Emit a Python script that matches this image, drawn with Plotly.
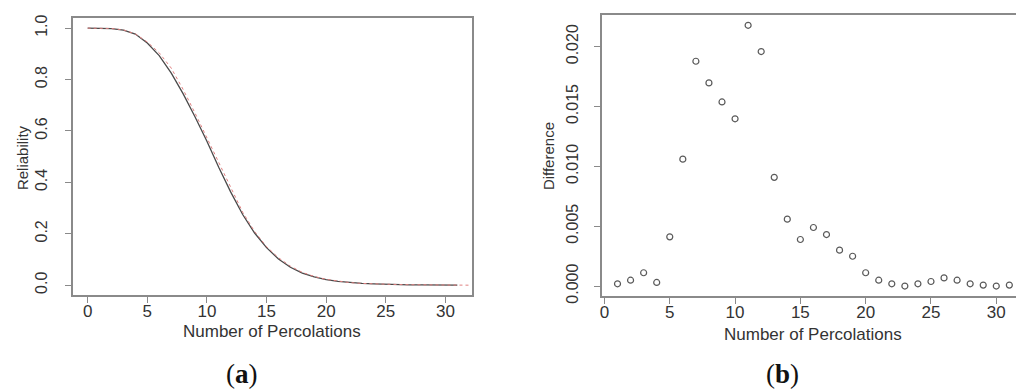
import plotly.graph_objects as go

W, H = 1024, 389

# ---- Panel (a): reliability curves ----
perc_a = list(range(0, 32))
reliability_black = [1.000, 0.9995, 0.998, 0.992, 0.977, 0.942, 0.893, 0.826, 0.745, 0.655,
                     0.560, 0.458, 0.362, 0.275, 0.203, 0.146, 0.102, 0.070, 0.047, 0.032,
                     0.022, 0.015, 0.010, 0.007, 0.005, 0.003, 0.002, 0.0015, 0.001, 0.0006,
                     0.0003, 0.0002]
perc_red = list(range(0, 33))
reliability_red = [1.000, 0.9997, 0.9985, 0.993, 0.977, 0.946, 0.904, 0.845, 0.762, 0.670,
                   0.574, 0.480, 0.382, 0.284, 0.209, 0.150, 0.107, 0.074, 0.050, 0.034,
                   0.023, 0.0155, 0.010, 0.007, 0.005, 0.0034, 0.0027, 0.002, 0.0012, 0.0007,
                   0.0003, 0.0003, 0.0001]

# ---- Panel (b): difference ----
perc_b = list(range(1, 32))
difference = [0.00019, 0.00049, 0.00111, 0.00030, 0.00411, 0.01060, 0.01878, 0.01697, 0.01538,
              0.01397, 0.02178, 0.01959, 0.00908, 0.00559, 0.00389, 0.00489, 0.00430, 0.00300,
              0.00249, 0.00111, 0.00049, 0.00019, 0.00000, 0.00019, 0.00038, 0.00068, 0.00049,
              0.00019, 0.00008, 0.00000, 0.00008]

x_ticks = [0, 5, 10, 15, 20, 25, 30]
y_ticks_a = [0.0, 0.2, 0.4, 0.6, 0.8, 1.0]
y_ticks_b = [0.000, 0.005, 0.010, 0.015, 0.020]

fig = go.Figure()
fig.add_trace(go.Scatter(x=perc_a, y=reliability_black, mode="lines",
                         line=dict(color="#4a4a4a", width=1.3), xaxis="x", yaxis="y",
                         showlegend=False))
fig.add_trace(go.Scatter(x=perc_red, y=reliability_red, mode="lines",
                         line=dict(color="#e08080", width=1.0, dash="3px,3px"), xaxis="x", yaxis="y",
                         showlegend=False))
fig.add_trace(go.Scatter(x=perc_b, y=difference, mode="markers",
                         marker=dict(symbol="circle-open", size=6, color="#5a5a5a",
                                     line=dict(width=1.2, color="#5a5a5a")),
                         xaxis="x2", yaxis="y2", showlegend=False))

xtickfont = dict(family="Liberation Sans, Arial, sans-serif", size=17, color="#333333")
ytickfont = dict(family="Liberation Sans, Arial, sans-serif", size=16, color="#333333")
axis_common = dict(showline=True, mirror=True, linecolor="#8a8a8a", linewidth=1.5,
                   ticks="outside", ticklen=6, tickcolor="#8a8a8a", tickwidth=1,
                   showgrid=False, zeroline=False)

def px_x(p):
    return p / W

def px_y(p):
    return 1 - p / H

fig.update_layout(
    width=W, height=H,
    margin=dict(l=0, r=0, t=0, b=0),
    paper_bgcolor="white", plot_bgcolor="white",
    xaxis=dict(domain=[px_x(63), px_x(463)], range=[-1.24, 32.24], tickvals=x_ticks,
               anchor="y", tickfont=xtickfont, ticklabelstandoff=-7, **axis_common),
    yaxis=dict(domain=[px_y(292), px_y(7)], range=[-0.04, 1.04], tickvals=y_ticks_a,
               tickformat=".1f", tickangle=-90, ticklabelstandoff=12, anchor="x",
               tickfont=ytickfont, **axis_common),
    xaxis2=dict(domain=[px_x(593), px_x(1017)], range=[-0.2, 32.2], tickvals=x_ticks,
                anchor="y2", tickfont=xtickfont, ticklabelstandoff=-7, **axis_common),
    yaxis2=dict(domain=[px_y(293), px_y(4)], range=[-0.00087, 0.02265], tickvals=y_ticks_b,
                tickformat=".3f", tickangle=-90, ticklabelstandoff=10, anchor="x2",
                tickfont=ytickfont, **axis_common),
)

title_font = dict(family="Liberation Sans, Arial, sans-serif", size=17, color="#333333")
ann = [
    dict(text="Number of Percolations", x=px_x(263), y=px_y(329), font=title_font),
    dict(text="Reliability", x=px_x(12), y=px_y(150), textangle=-90,
         font=dict(family="Liberation Sans, Arial, sans-serif", size=15, color="#333333")),
    dict(text="Number of Percolations", x=px_x(805), y=px_y(332), font=title_font),
    dict(text="Difference", x=px_x(539), y=px_y(149), textangle=-90,
         font=dict(family="Liberation Sans, Arial, sans-serif", size=15, color="#333333")),
    dict(text="(<b>a</b>)", x=px_x(232), y=px_y(373),
         font=dict(family="Liberation Serif, Times New Roman, serif", size=27, color="#111111")),
    dict(text="(<b>b</b>)", x=px_x(774), y=px_y(373),
         font=dict(family="Liberation Serif, Times New Roman, serif", size=27, color="#111111")),
]
for a in ann:
    a.update(xref="paper", yref="paper", showarrow=False, xanchor="center", yanchor="middle")
fig.update_layout(annotations=ann)

fig.write_html("out.html")
